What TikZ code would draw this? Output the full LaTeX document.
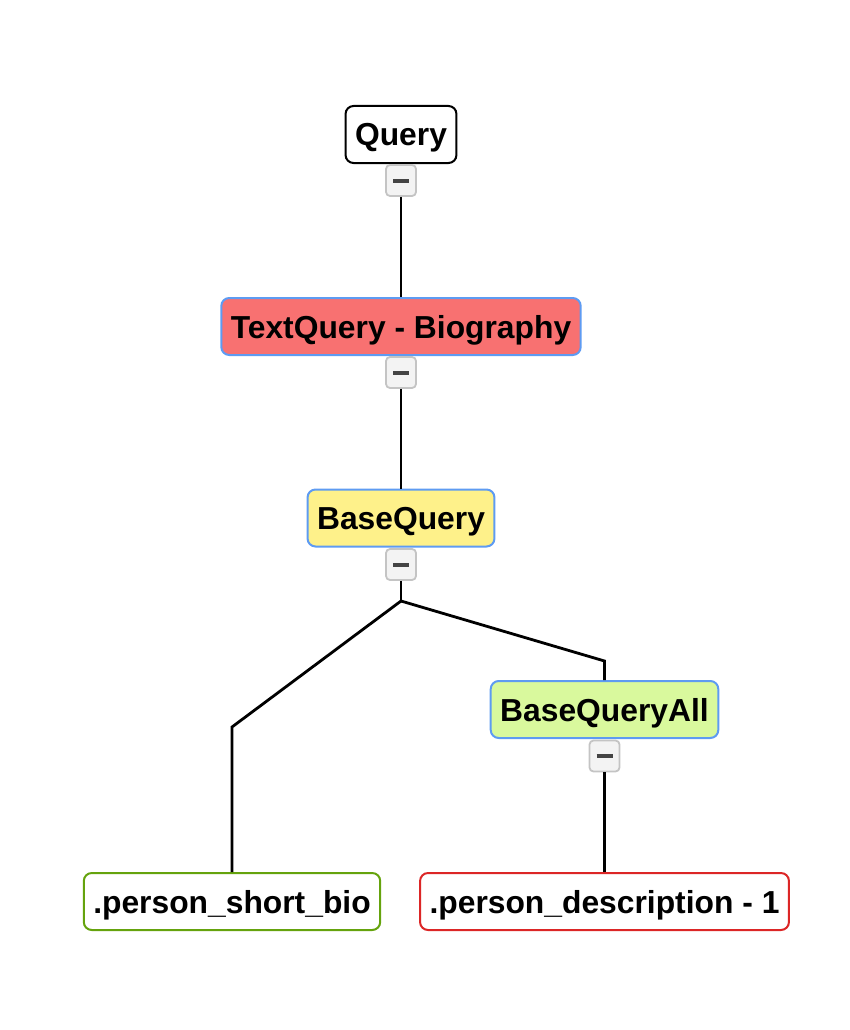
\documentclass[tikz,border=0pt]{standalone}
\usepackage{fontspec}
\setmainfont{Liberation Sans}
\definecolor{qblue}{HTML}{5E9BF2}
\definecolor{qred}{HTML}{F87171}
\definecolor{qyellow}{HTML}{FEF18A}
\definecolor{qgreen}{HTML}{D9F99D}
\definecolor{leafgreen}{HTML}{65A30D}
\definecolor{leafred}{HTML}{DC2626}
\definecolor{btnfill}{HTML}{F3F3F3}
\definecolor{btnedge}{HTML}{C4C4C4}
\definecolor{btnbar}{HTML}{444444}
\tikzset{
  qnode/.style={draw=qblue, line width=2pt, rounded corners=8pt,
    minimum height=57pt, inner xsep=9.5pt, text depth=0pt,
    font=\fontsize{31.8}{37}\selectfont\bfseries},
  btn/.style={draw=btnedge, fill=btnfill, line width=1.8pt, rounded corners=4pt,
    minimum width=30pt, minimum height=31pt, inner sep=0pt,
    path picture={\draw[btnbar, line width=4pt]
      ([xshift=-8pt]path picture bounding box.center) --
      ([xshift=8pt]path picture bounding box.center);}},
  link/.style={line width=2.8pt},
}
\begin{document}
\begin{tikzpicture}[x=1pt, y=-1pt]
  \useasboundingbox (0, 0) rectangle (850, 1030);

  \node[qnode, draw=black, fill=white] (query) at (401, 134.5) {Query};
  \node[btn] (bquery) at (401, 180.5) {};

  \node[qnode, fill=qred] (text) at (401, 326.5) {TextQuery - Biography};
  \node[btn] (btext) at (401, 372.5) {};

  \node[qnode, fill=qyellow] (base) at (401, 518) {BaseQuery};
  \node[btn] (bbase) at (401, 564.5) {};

  \node[qnode, fill=qgreen] (all) at (604.5, 709.5) {BaseQueryAll};
  \node[btn] (ball) at (604.5, 756) {};

  \node[qnode, draw=leafgreen, fill=white] (bio) at (232, 901.5) {.person\_short\_bio};
  \node[qnode, draw=leafred, fill=white] (desc) at (604.5, 901.5) {.person\_description - 1};

  \coordinate (fork) at (401, 601);

  \draw[link] (bquery) -- (query.south |- text.north);
  \draw[link] (btext) -- (text.south |- base.north);
  \draw[link] (bbase) -- (fork);
  \draw[link] (fork) -- (232, 727) -- (bio);
  \draw[link] (fork) -- (604.5, 661) -- (all);
  \draw[link] (ball) -- (desc);
\end{tikzpicture}
\end{document}
